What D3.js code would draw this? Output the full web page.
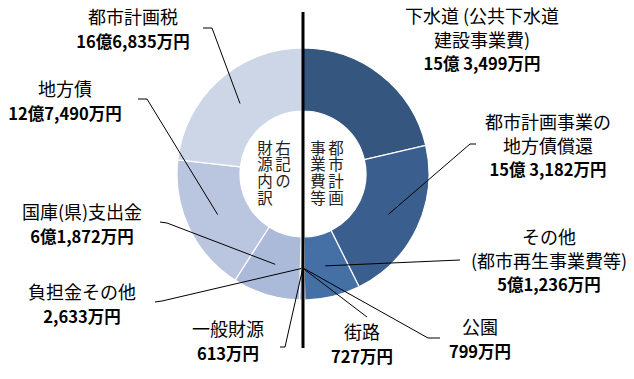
<!DOCTYPE html>
<html><head><meta charset="utf-8">
<script src="https://cdn.jsdelivr.net/npm/d3@7"></script>
<style>
html,body{margin:0;padding:0;background:#fff;}
svg{display:block;}
text{font-family:"Noto Sans CJK JP","Noto Sans",sans-serif;fill:#000;}
</style></head>
<body>
<svg id="chart" width="634" height="379"></svg>
<script>
// ---- data (clockwise from 12 o'clock) ----
const categories = ["下水道(公共下水道建設事業費)","都市計画事業の地方債償還","その他(都市再生事業費等)","公園","街路",
                    "一般財源","負担金その他","国庫(県)支出金","地方債","都市計画税"];
const values = [153499,153182,51236,799,727, 613,2633,61872,127490,166835]; // 万円
const nameLines = [
  ["下水道 (公共下水道","建設事業費)"],
  ["都市計画事業の","地方債償還"],
  ["その他","(都市再生事業費等)"],
  ["公園"],
  ["街路"],
  ["一般財源"],
  ["負担金その他"],
  ["国庫(県)支出金"],
  ["地方債"],
  ["都市計画税"]
];
const valueLabels = ["15億 3,499万円","15億 3,182万円","5億1,236万円","799万円","727万円",
                     "613万円","2,633万円","6億1,872万円","12億7,490万円","16億6,835万円"];
const centerRight = ["都市計画","事業費等"];
const centerLeft = ["右記の","財源内訳"];

// ---- layout ----
const colors = ["#34567f","#3a5e8e","#4470a6","#4a78b0","#5080b8",
                "#a9b8d6","#a6b4d3","#acbada","#bac6df","#ccd6e7"];
const cx = 303, cy = 174, R = 126, r = 63;
// label anchor (center x, first line baseline y)
const labelPos = [
  {x:482,y:23},{x:548,y:129},{x:549,y:244},{x:480,y:334},{x:362,y:339},
  {x:228,y:336},{x:82,y:299},{x:82,y:219},{x:65,y:96},{x:133,y:24}
];
const leaderEnds = [
  null,
  [[470,144],[476,144]],
  [[460,260]],
  [[428,338],[440,338]],
  [[367,317]],
  [[285,347],[280,347]],
  [[162,301],[155,302]],
  [[167,223],[160,222]],
  [[147,99],[138,99]],
  [[212,28],[203,28]]
];

const svg = d3.select("#chart");
const g = svg.append("g").attr("transform",`translate(${cx},${cy})`);

const pie = d3.pie().sort(null).value(d=>d).startAngle(0).endAngle(2*Math.PI);
const arcs = pie(values);
const arc = d3.arc().innerRadius(r).outerRadius(R);

g.selectAll("path.slice").data(arcs).join("path")
  .attr("class","slice")
  .attr("d",arc)
  .attr("fill",(d,i)=>colors[i])
  .attr("stroke","#fff").attr("stroke-width",1.2);

// leader lines
const line = d3.line();
arcs.forEach((a,i)=>{
  if(!leaderEnds[i]) return;
  const c = arc.centroid(a);
  const pts = [[c[0]+cx,c[1]+cy]].concat(leaderEnds[i]);
  svg.append("path").attr("d",line(pts)).attr("fill","none")
    .attr("stroke","#000").attr("stroke-width",1);
});

// vertical divider
svg.append("line").attr("x1",cx).attr("x2",cx).attr("y1",12).attr("y2",348)
  .attr("stroke","#000").attr("stroke-width",3);

// labels
const lh = 23.5;
categories.forEach((c,i)=>{
  const p = labelPos[i];
  nameLines[i].forEach((s,k)=>{
    svg.append("text").attr("text-anchor","middle")
      .attr("x",p.x).attr("y",p.y+k*lh).style("font-size","18px").text(s);
  });
  svg.append("text").attr("text-anchor","middle")
    .attr("x",p.x).attr("y",p.y+nameLines[i].length*lh)
    .style("font-size","16.5px").style("font-weight","bold").text(valueLabels[i]);
});

// center vertical text (one column per text element)
function vcol(str,x){
  svg.append("text").attr("x",x).attr("y",140)
    .style("writing-mode","vertical-rl")
    .style("font-size","15.5px").style("letter-spacing","1.2px")
    .style("fill","#222").text(str);
}
vcol(centerRight[0],336); vcol(centerRight[1],318);
vcol(centerLeft[0],283); vcol(centerLeft[1],265);
</script>
</body></html>
